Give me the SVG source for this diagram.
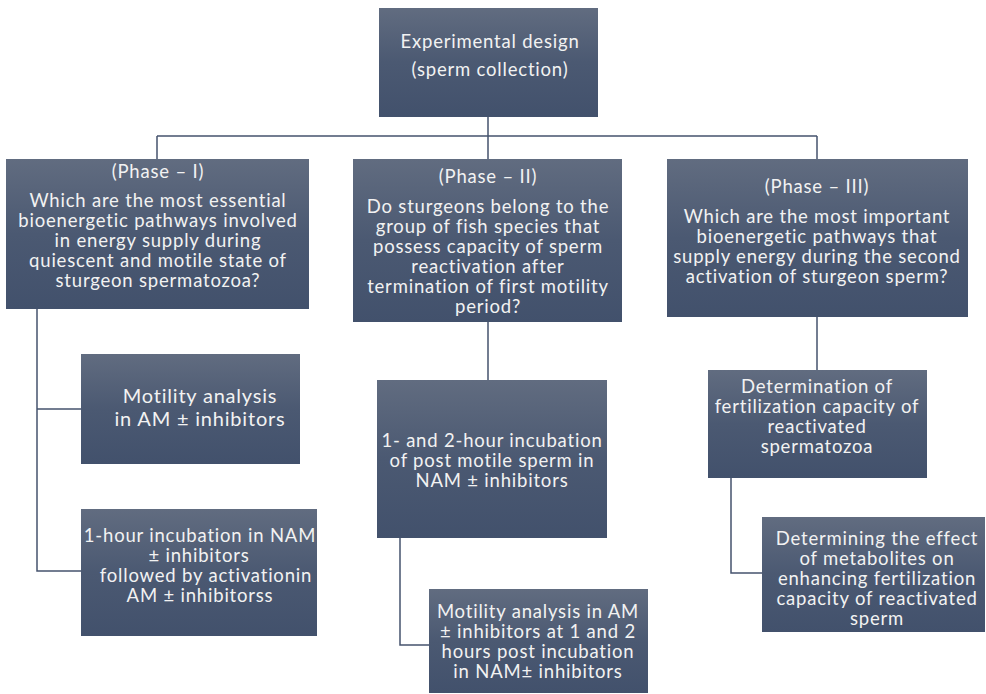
<svg xmlns="http://www.w3.org/2000/svg" width="986" height="694" viewBox="0 0 986 694">
<defs>
<linearGradient id="g" x1="0" y1="0" x2="0" y2="1">
<stop offset="0" stop-color="#616c80"/>
<stop offset="0.5" stop-color="#4b5972"/>
<stop offset="1" stop-color="#42516c"/>
</linearGradient>
<style>
.box{fill:url(#g);}
.t{font-family:Lato,"Open Sans","Liberation Sans",sans-serif;font-size:18.5px;letter-spacing:0.8px;fill:#f2f2f2;text-anchor:middle;}
.big{font-size:20px;}
.c{fill:none;stroke:#45536e;stroke-width:1.5;}
</style>
</defs>
<rect width="986" height="694" fill="#ffffff"/>
<g id="connectors">
<path class="c" d="M488 117V136M157 136H817M157 136V159M488 136V159M817 136V159"/>
<path class="c" d="M37 309V571H81M37 409H81"/>
<path class="c" d="M488 322V380M400 538V645H429"/>
<path class="c" d="M817 317V370M731 478V573H762"/>
</g>
<g id="top">
<rect class="box" x="379" y="8" width="219" height="109"/>
<text class="t" x="490" y="48">Experimental design</text>
<text class="t" x="490" y="76">(sperm collection)</text>
</g>
<g id="phase1">
<rect class="box" x="6" y="159" width="303" height="150"/>
<text class="t" x="158" y="178">(Phase – I)</text>
<text class="t" x="158" y="207">Which are the most essential</text>
<text class="t" x="158" y="227">bioenergetic pathways involved</text>
<text class="t" x="158" y="247">in energy supply during</text>
<text class="t" x="158" y="267">quiescent and motile state of</text>
<text class="t" x="158" y="287">sturgeon spermatozoa?</text>
</g>
<g id="phase2">
<rect class="box" x="353" y="159" width="269" height="163"/>
<text class="t" x="488" y="183">(Phase – II)</text>
<text class="t" x="488" y="213">Do sturgeons belong to the</text>
<text class="t" x="488" y="233">group of fish species that</text>
<text class="t" x="488" y="253">possess capacity of sperm</text>
<text class="t" x="488" y="273">reactivation after</text>
<text class="t" x="488" y="293">termination of first motility</text>
<text class="t" x="488" y="313">period?</text>
</g>
<g id="phase3">
<rect class="box" x="667" y="159" width="301" height="158"/>
<text class="t" x="817" y="193">(Phase – III)</text>
<text class="t" x="817" y="223">Which are the most important</text>
<text class="t" x="817" y="243">bioenergetic pathways that</text>
<text class="t" x="817" y="263">supply energy during the second</text>
<text class="t" x="817" y="283">activation of sturgeon sperm?</text>
</g>
<g id="motility">
<rect class="box" x="81" y="354" width="219" height="110"/>
<text class="t big" x="200" y="403">Motility analysis</text>
<text class="t big" x="200" y="426">in AM ± inhibitors</text>
</g>
<g id="incubation1">
<rect class="box" x="81" y="509" width="236" height="127"/>
<text class="t" x="200" y="542">1-hour incubation in NAM</text>
<text class="t" x="199" y="562">± inhibitors</text>
<text class="t" x="206" y="582">followed by activationin</text>
<text class="t" x="200" y="602">AM ± inhibitorss</text>
</g>
<g id="incubation2">
<rect class="box" x="377" y="380" width="230" height="158"/>
<text class="t" x="492" y="447">1- and 2-hour incubation</text>
<text class="t" x="492" y="467">of post motile sperm in</text>
<text class="t" x="492" y="487">NAM ± inhibitors</text>
</g>
<g id="motility2">
<rect class="box" x="429" y="589" width="219" height="104"/>
<text class="t" x="538" y="618">Motility analysis in AM</text>
<text class="t" x="538" y="638">± inhibitors at 1 and 2</text>
<text class="t" x="538" y="658">hours post incubation</text>
<text class="t" x="538" y="678">in NAM± inhibitors</text>
</g>
<g id="fertilization">
<rect class="box" x="708" y="370" width="219" height="108"/>
<text class="t" x="817" y="393">Determination of</text>
<text class="t" x="817" y="413">fertilization capacity of</text>
<text class="t" x="817" y="433">reactivated</text>
<text class="t" x="817" y="453">spermatozoa</text>
</g>
<g id="metabolites">
<rect class="box" x="762" y="517" width="223" height="115"/>
<text class="t" x="877" y="545">Determining the effect</text>
<text class="t" x="877" y="565">of metabolites on</text>
<text class="t" x="877" y="585">enhancing fertilization</text>
<text class="t" x="877" y="605">capacity of reactivated</text>
<text class="t" x="877" y="625">sperm</text>
</g>
</svg>
